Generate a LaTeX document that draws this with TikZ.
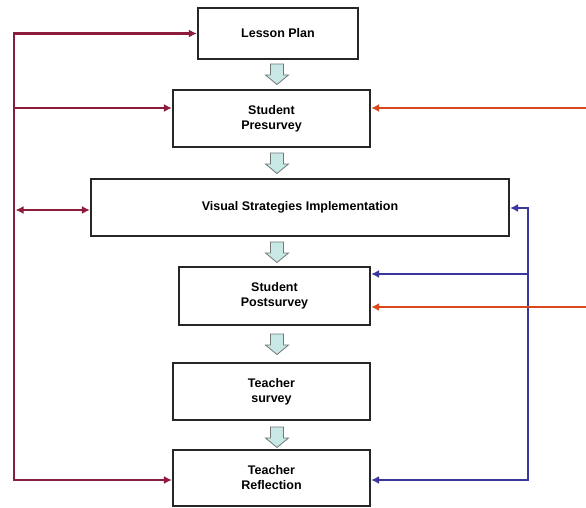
\documentclass[tikz,border=0pt]{standalone}
\usepackage{fontspec}
\setmainfont{Liberation Sans}
\usetikzlibrary{arrows.meta}
\definecolor{maroonc}{HTML}{8C1C3C}
\definecolor{redc}{HTML}{D9481C}
\definecolor{bluec}{HTML}{3A36A0}
\definecolor{arrfill}{HTML}{C8E8E6}
\definecolor{arrdraw}{HTML}{707878}
\tikzset{
  stagebox/.style={draw=black!85, line width=2.2pt, fill=white, inner sep=0pt, align=center,
    font=\fontsize{12.5}{15}\selectfont\bfseries},
  tipc/.tip={Latex[length=8pt,width=8pt]},
  conn/.style={line width=2.5pt, -tipc},
  mline/.style={conn, draw=maroonc, color=maroonc},
  rline/.style={conn, draw=redc, color=redc},
  bline/.style={conn, draw=bluec, color=bluec},
  pics/downarrow/.style={code={
    \draw[fill=arrfill, draw=arrdraw, line width=0.8pt, line join=miter]
      (-6.5,10) -- (6.5,10) -- (6.5,-1) -- (11.5,-1) -- (0,-10.5) -- (-11.5,-1) -- (-6.5,-1) -- cycle;}}
}
\begin{document}
\begin{tikzpicture}[x=1pt,y=1pt]
\useasboundingbox (0,0) rectangle (586,507);
% boxes (y = 507 - pixel y)
\node[stagebox, minimum width=160pt, minimum height=51pt] (lp) at (278,473.5) {Lesson Plan};
\node[stagebox, minimum width=197pt, minimum height=57pt] (pre) at (271.5,388.5) {Student\\Presurvey};
\node[stagebox, minimum width=418pt, minimum height=57pt] (vis) at (300,299.5) {Visual Strategies Implementation};
\node[stagebox, minimum width=191pt, minimum height=58pt] (post) at (274.5,211) {Student\\Postsurvey};
\node[stagebox, minimum width=197pt, minimum height=57pt] (ts) at (271.5,115.5) {Teacher\\survey};
\node[stagebox, minimum width=197pt, minimum height=56pt] (tr) at (271.5,29) {Teacher\\Reflection};
% block arrows
\pic at (277,433) {downarrow};
\pic at (277,344) {downarrow};
\pic at (277,255) {downarrow};
\pic at (277,163) {downarrow};
\pic at (277,70) {downarrow};
% left maroon feedback line
\coordinate (Ltop) at (14,473.5);
\coordinate (Lbot) at (14,27);
\coordinate (Lpre) at (14,399);
\coordinate (Lvis) at (15.5,297);
\draw[mline, -] (14,474.75) -- (Lbot);
\draw[mline] (Ltop) -- (lp.west);
\draw[mline] (Lpre) -- (Lpre -| pre.west);
\draw[mline, tipc-tipc] (Lvis) -- (Lvis -| vis.west);
\draw[mline] (13,27) -- (Lbot -| tr.west);
% right blue line
\coordinate (Btop) at (528,299);
\coordinate (Bbot) at (528,27);
\coordinate (Bpost) at (528,233);
\draw[bline, line join=miter] (528,25.75) -- (Btop) -- (Btop -| vis.east);
\draw[bline] (Bpost) -- (Bpost -| post.east);
\draw[bline] (Bbot) -- (Bbot -| tr.east);
% right red lines
\coordinate (Rpre) at (586,399);
\coordinate (Rpost) at (586,200);
\draw[rline] (Rpre) -- (Rpre -| pre.east);
\draw[rline] (Rpost) -- (Rpost -| post.east);
\end{tikzpicture}
\end{document}
